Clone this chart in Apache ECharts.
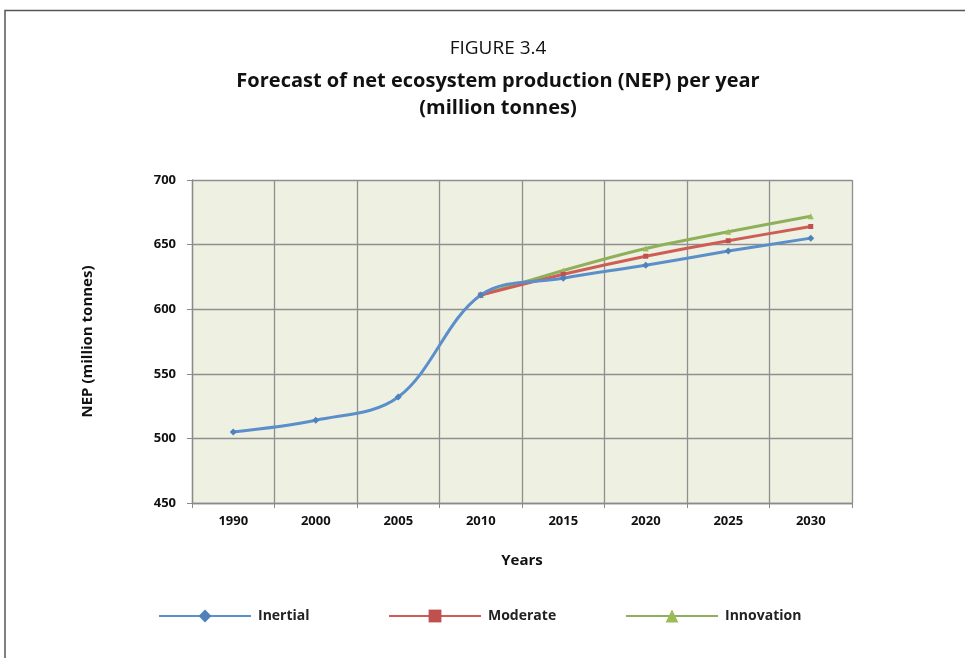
<!DOCTYPE html>
<html>
<head>
<meta charset="utf-8">
<script src="https://cdn.jsdelivr.net/npm/echarts@6/dist/echarts.min.js"></script>
<style>
html,body{margin:0;padding:0;background:#fff;}
#chart{width:965px;height:658px;}
</style>
</head>
<body>
<div id="chart"></div>
<script>
var years = ['1990','2000','2005','2010','2015','2020','2025','2030'];
var inertial = [505, 514, 532, 611, 624, 634, 645, 655];
var moderate = [null, null, null, 611, 627, 641, 653, 664];
var innovation = [null, null, null, 611, 630, 647, 660, 672];
var yTicks = {min: 450, max: 700, interval: 50};

var FONT = '"Open Sans", "Liberation Sans", sans-serif';
var chart = echarts.init(document.getElementById('chart'));

function legendAt(name, left) {
  return {
    data: [name], left: left, top: 609, padding: 0, itemWidth: 92, itemHeight: 16, itemGap: 8,
    textStyle: {fontFamily: FONT, fontWeight: 'bold', fontSize: 14, color: '#222', padding: [0, 0, 0, 2]}
  };
}

chart.setOption({
  backgroundColor: '#fff',
  animation: false,
  title: [
    {text: 'FIGURE 3.4', left: 493, textAlign: 'center', top: 34,
     textStyle: {fontFamily: FONT, fontWeight: 'normal', fontSize: 19, color: '#111'}},
    {text: 'Forecast of net ecosystem production (NEP) per year\n(million tonnes)', left: 493, textAlign: 'center', top: 63,
     textStyle: {fontFamily: FONT, fontWeight: 'bold', fontSize: 20, lineHeight: 27, color: '#111'}}
  ],
  graphic: [{
    type: 'polyline', silent: true,
    shape: {points: [[5, 658], [5, 10.5], [965, 10.5]]},
    style: {stroke: '#555', lineWidth: 1.5, fill: null}
  }],
  legend: [legendAt('Inertial', 158), legendAt('Moderate', 388), legendAt('Innovation', 625)],
  grid: {left: 192, right: 113, top: 180, bottom: 155, show: true,
         backgroundColor: '#eef0e2', borderWidth: 0},
  xAxis: {
    type: 'category', data: years, boundaryGap: true,
    name: 'Years', nameLocation: 'middle', nameGap: 50,
    nameTextStyle: {fontFamily: FONT, fontWeight: 'bold', fontSize: 15, color: '#111'},
    axisLine: {show: true, lineStyle: {color: '#8a8a8a', width: 1.3}},
    axisTick: {show: true, interval: 0, length: 5, lineStyle: {color: '#8a8a8a'}},
    splitLine: {show: true, interval: 0, lineStyle: {color: '#8f8f8f', width: 1.3}},
    axisLabel: {fontFamily: FONT, fontWeight: 'bold', fontSize: 13, color: '#111', margin: 12}
  },
  yAxis: {
    type: 'value', min: yTicks.min, max: yTicks.max, interval: yTicks.interval,
    name: 'NEP (million tonnes)', nameLocation: 'middle', nameGap: 97, nameRotate: 90,
    nameTextStyle: {fontFamily: FONT, fontWeight: 'bold', fontSize: 15, color: '#111'},
    axisLine: {show: true, lineStyle: {color: '#8a8a8a', width: 1.3}},
    axisTick: {show: true, length: 5, lineStyle: {color: '#8a8a8a'}},
    splitLine: {show: true, lineStyle: {color: '#8f8f8f', width: 1.3}},
    axisLabel: {fontFamily: FONT, fontWeight: 'bold', fontSize: 13, color: '#111', margin: 16}
  },
  series: [
    {name: 'Inertial', type: 'line', data: inertial, smooth: 0.35,
     symbol: 'diamond', symbolSize: 7, showAllSymbol: true,
     lineStyle: {color: '#5b8fca', width: 3}, itemStyle: {color: '#4f81bd'}, z: 3},
    {name: 'Moderate', type: 'line', data: moderate, smooth: 0.2,
     symbol: 'rect', symbolSize: 5,
     lineStyle: {color: '#cd5d56', width: 3}, itemStyle: {color: '#c0504d'}, z: 2},
    {name: 'Innovation', type: 'line', data: innovation, smooth: 0.2,
     symbol: 'triangle', symbolSize: 6,
     lineStyle: {color: '#8fb05a', width: 3}, itemStyle: {color: '#9bbb59'}, z: 1}
  ]
});
</script>
</body>
</html>
